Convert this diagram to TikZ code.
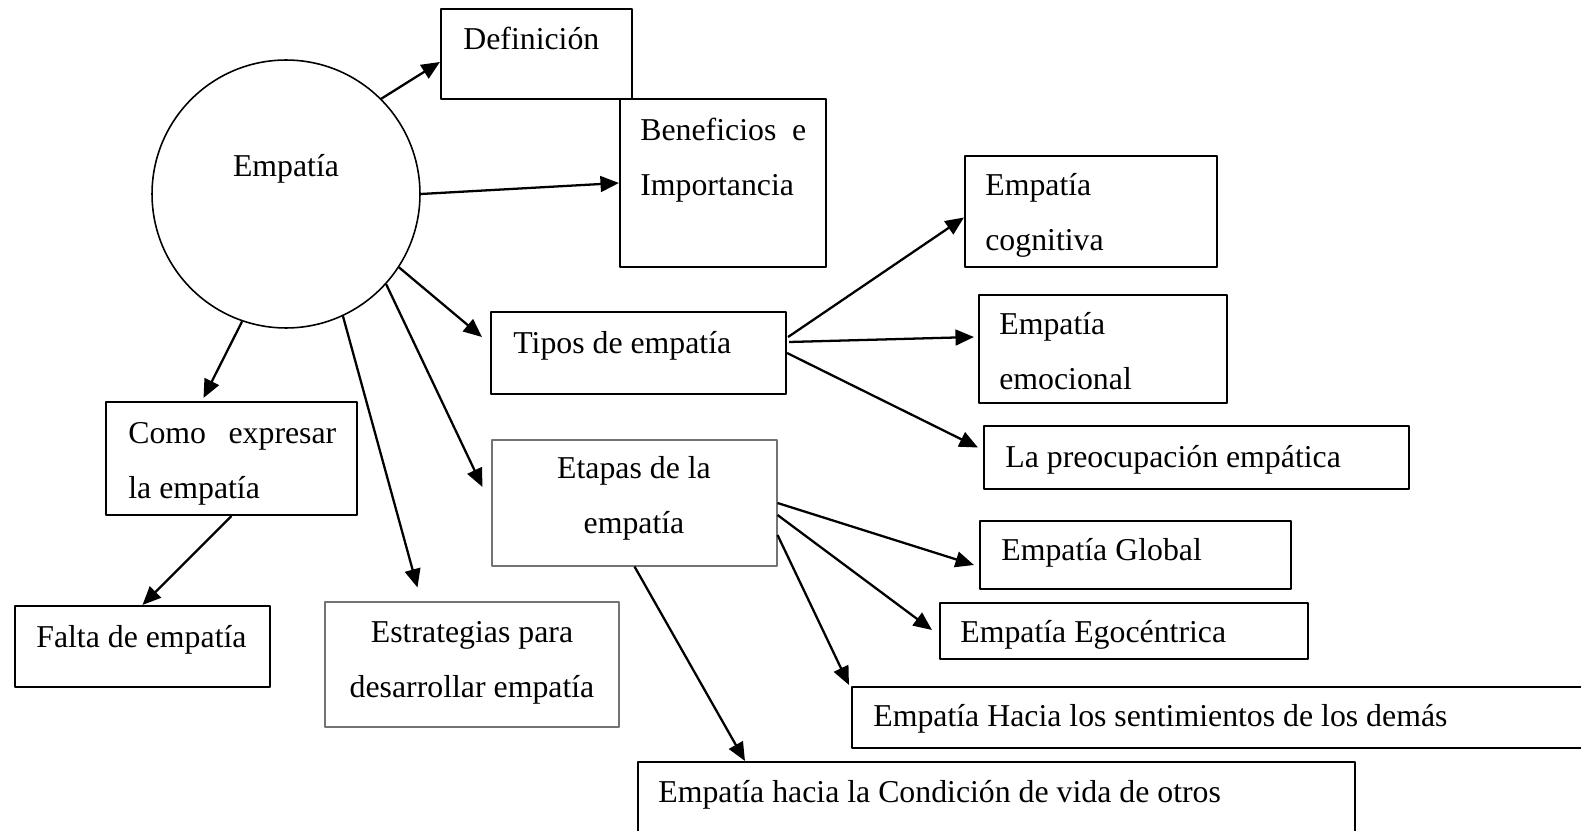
\documentclass[tikz,border=0pt]{standalone}
\usepackage{fontspec}
\setmainfont{Liberation Serif}
\usetikzlibrary{arrows.meta, calc, fit}
\definecolor{frame_gray}{gray}{0.45}
\tikzset{
	box/.style={draw, line width=1.2pt, inner sep=0pt},
	thinbox/.style={draw=frame_gray, line width=0.6pt, inner sep=0pt},
	txt/.style={anchor=base west, inner sep=0pt, font=\fontsize{18.1}{31.3}\selectfont},
	link/.style={line width=1.3pt, -{Triangle[length=10.5pt,width=9pt]}}
}

\begin{document}
\begin{tikzpicture}[x=0.02cm, y=-0.02cm, line join=round]
	\clip (0,0) rectangle (1581,831);

	% centro
	\node[circle, draw, line width=0.9pt, minimum size=5.36cm, inner sep=0pt] (emp) at (286,194) {};
	\node[txt, anchor=base] (emp-t) at (286,177) {Empatía};

	% cajas (texto de varias lineas: base en la ultima linea)
	\node[box, fit={(441,9) (632,99)}] (def) {};
	\node[txt] (def-t) at (463,50) {Definición};
	\node[box, fit={(620,99) (826,267)}] (ben) {};
	\node[txt, align=left] (ben-t) at (640,195) {\makebox[3.32cm][s]{Beneficios e}\\Importancia};
	\node[box, fit={(491,312) (786,394)}] (tip) {};
	\node[txt] (tip-t) at (513,353) {Tipos de empatía};
	\node[thinbox, fit={(492,440) (777,566)}] (eta) {};
	\node[txt, anchor=base, align=center] (eta-t) at (634,533) {Etapas de la\\empatía};
	\node[box, fit={(106,402) (357,515)}] (como) {};
	\node[txt, align=left] (como-t) at (128,498) {\makebox[4.16cm][s]{Como expresar}\\la empatía};
	\node[box, fit={(15,606) (270,687)}] (falta) {};
	\node[txt] (falta-t) at (36,647) {Falta de empatía};
	\node[thinbox, fit={(325,602) (619,727)}] (estr) {};
	\node[txt, anchor=base, align=center] (estr-t) at (472,697) {Estrategias para\\desarrollar empatía};

	% tipos
	\node[box, fit={(965,156) (1217,267)}] (cog) {};
	\node[txt, align=left] (cog-t) at (985,250) {Empatía\\cognitiva};
	\node[box, fit={(979,295) (1227,403)}] (emo) {};
	\node[txt, align=left] (emo-t) at (999,389) {Empatía\\emocional};
	\node[box, fit={(984,426) (1409,489)}] (preo) {};
	\node[txt] (preo-t) at (1005,467) {La preocupación empática};

	% etapas
	\node[box, fit={(980,521) (1291,589)}] (glob) {};
	\node[txt] (glob-t) at (1001,560) {Empatía Global};
	\node[box, fit={(940,603) (1308,659)}] (ego) {};
	\node[txt] (ego-t) at (960,642) {Empatía Egocéntrica};
	\node[box, fit={(852,687) (1600,748)}] (hac) {};
	\node[txt] (hac-t) at (873,726) {Empatía Hacia los sentimientos de los demás};
	\node[box, fit={(638,762) (1355,860)}] (cond) {};
	\node[txt] (cond-t) at (658,802) {Empatía hacia la Condición de vida de otros};

	% flechas
	\draw[link] (emp.45) -- ($(def.west)+(0,8)$);
	\draw[link] (emp.0) -- (ben.west);
	\draw[link] (emp.-33) -- ($(tip.west)+(-8,-16)$);
	\draw[link] (emp.-42) -- ($(eta.west)+(-9,-16)$);
	\draw[link] (emp.-65) -- ($(estr.north west)+(93,-14)$);
	\draw[link] (emp.-109) -- ($(como.north)+(-28,-3)$);
	\draw[link] (como.south) -- (falta.north);
	\draw[link] ($(tip.east)+(1,-16)$) -- ($(cog.west)+(0,6)$);
	\draw[link] ($(tip.east)+(2,-11)$) -- ($(emo.west)+(-4,-12)$);
	\draw[link] (tip.east) -- ($(preo.west)+(-5,-10)$);
	\draw[link] (eta.east) -- ($(glob.west)+(-5,10)$);
	\draw[link] ($(eta.east)+(0,12)$) -- ($(ego.west)+(-7,-1)$);
	\draw[link] ($(eta.east)+(0,32)$) -- ($(hac.north west)+(-2,-1)$);
	\draw[link] (eta.south) -- ($(cond.north west)+(108,0)$);
\end{tikzpicture}
\end{document}
